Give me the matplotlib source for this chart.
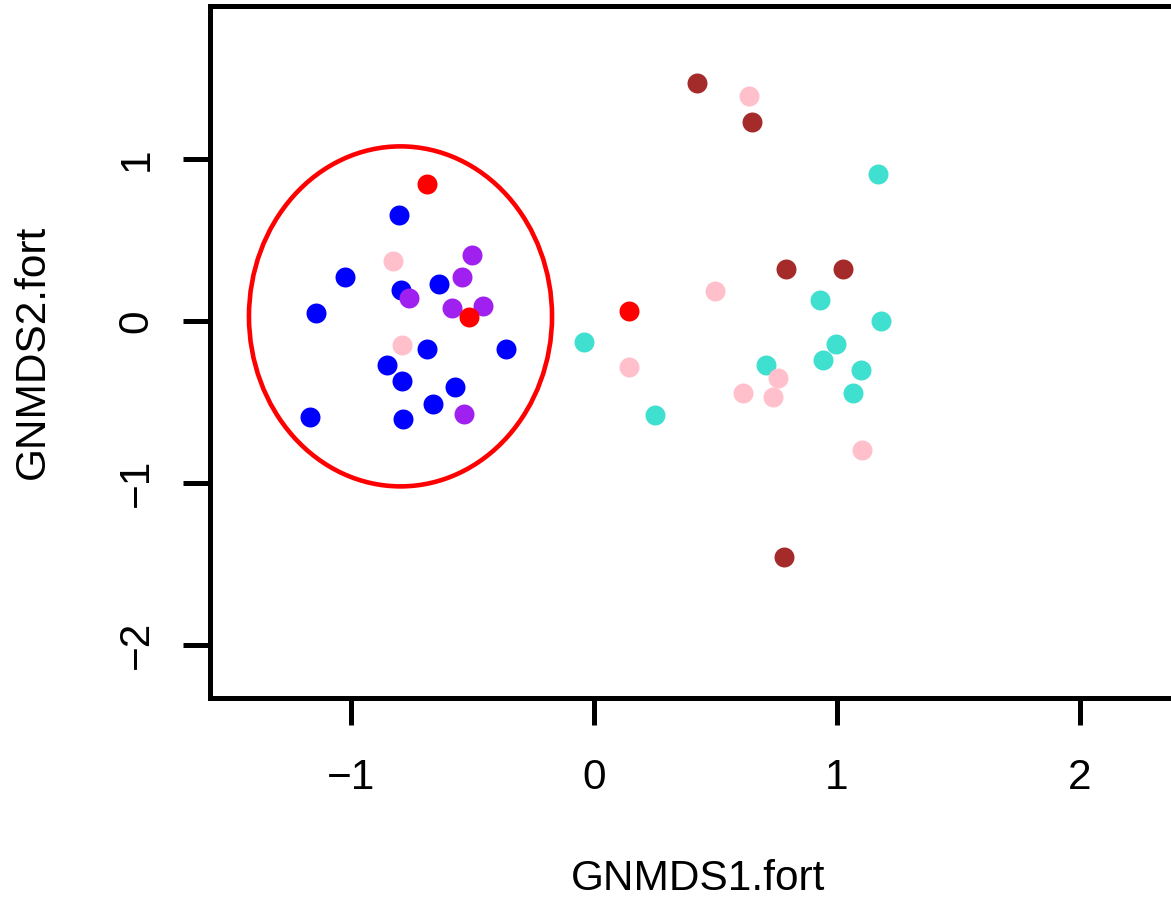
import matplotlib
matplotlib.use("Agg")
import matplotlib.pyplot as plt
from matplotlib.patches import Ellipse

plt.rcParams['font.family'] = ['Liberation Sans', 'DejaVu Sans']

# NMDS site scores, grouped by colour
blue_x = [-0.801, -1.025, -0.794, -0.638, -1.144, -0.688, -0.363, -0.853, -0.789, -0.572, -0.661, -1.169, -0.787]
blue_y = [0.652, 0.274, 0.188, 0.229, 0.048, -0.173, -0.173, -0.271, -0.370, -0.411, -0.510, -0.596, -0.607]

purple_x = [-0.761, -0.501, -0.542, -0.586, -0.458, -0.534]
purple_y = [0.141, 0.404, 0.274, 0.079, 0.089, -0.576]

turq_x = [1.169, 0.930, 1.182, -0.041, 0.996, 0.942, 0.709, 1.099, 1.066, 0.251]
turq_y = [0.904, 0.132, -0.002, -0.132, -0.142, -0.240, -0.271, -0.303, -0.446, -0.578]

pink_x = [-0.828, -0.791, 0.636, 0.498, 0.144, 0.757, 0.612, 0.738, 1.103]
pink_y = [0.370, -0.149, 1.391, 0.184, -0.283, -0.351, -0.448, -0.469, -0.795]

brown_x = [0.423, 0.649, 0.791, 1.025, 0.783]
brown_y = [1.467, 1.230, 0.318, 0.318, -1.459]

red_x = [-0.686, -0.513, 0.144]
red_y = [0.848, 0.023, 0.064]

groups = [
    (blue_x, blue_y, "#0000FF"),
    (purple_x, purple_y, "#A020F0"),
    (turq_x, turq_y, "#40E0D0"),
    (pink_x, pink_y, "#FFC0CB"),
    (brown_x, brown_y, "#A52A2A"),
    (red_x, red_y, "#FF0000"),
]

# highlighted cluster
ell_center = (-0.796, 0.028)
ell_w = 1.247
ell_h = 2.099

fig = plt.figure(figsize=(11.71, 8.98), dpi=100)
# axes runs a little past the right edge, like the cropped original
ax = fig.add_axes([0.1793, 0.2227, 0.8335, 0.7706])

for xs, ys, col in groups:
    ax.scatter(xs, ys, s=207, color=col, linewidths=0, zorder=3)

ax.add_patch(Ellipse(ell_center, ell_w, ell_h, fill=False,
                     edgecolor="#FF0000", lw=3.3, zorder=4))

ax.set_xlim(-1.58, 2.436)
ax.set_ylim(-2.328, 1.944)
ax.set_xticks([-1, 0, 1, 2])
ax.set_yticks([-2, -1, 0, 1])
ax.set_xticklabels(["\u22121", "0", "1", "2"])
ax.set_yticklabels(["\u22122", "\u22121", "0", "1"], rotation=90, va="center")

for s in ax.spines.values():
    s.set_linewidth(3.6)
ax.tick_params(axis="both", length=19.4, width=3.6, labelsize=30.5)
ax.tick_params(axis="x", pad=23.5)
ax.tick_params(axis="y", pad=19)

ax.set_xlabel("GNMDS1.fort", fontsize=30.5, labelpad=44)
ax.set_ylabel("GNMDS2.fort", fontsize=30.5, labelpad=46)

fig.savefig("out.png", dpi=100)
